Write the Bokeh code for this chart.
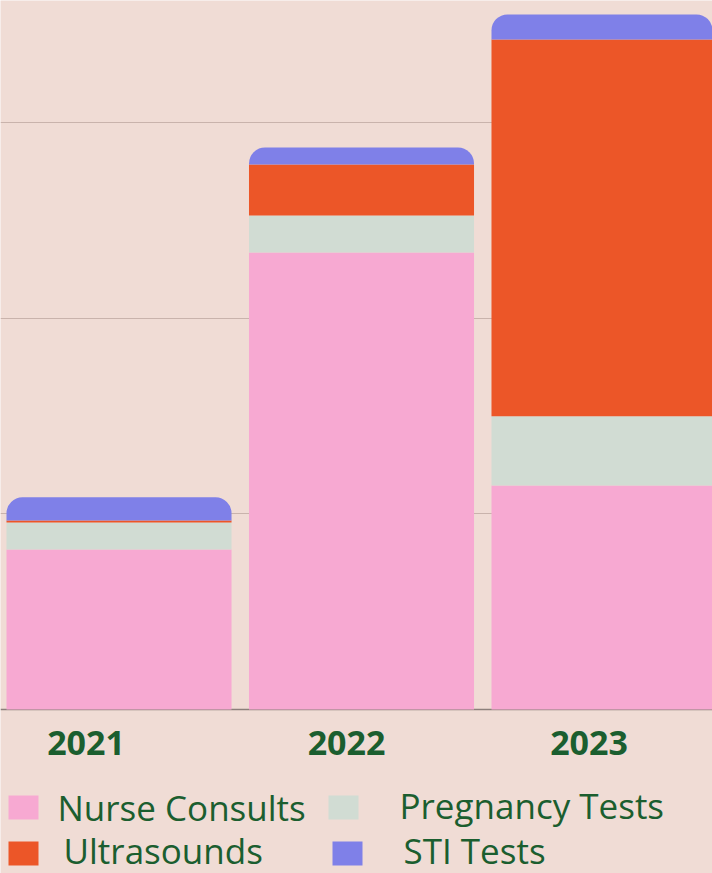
from bokeh.plotting import figure
from bokeh.models import Range1d, ColumnDataSource, Span, FixedTicker
from bokeh.core.properties import value
from bokeh.embed import file_html
from bokeh.resources import INLINE

# ---- data ----
years = ["2021", "2022", "2023"]
series = ["Nurse Consults", "Pregnancy Tests", "Ultrasounds", "STI Tests"]
nurse_consults = [818, 2335, 1145]
pregnancy_tests = [138, 189, 353]
ultrasounds = [10, 261, 1926]
sti_tests = [118, 87, 128]
grid_ticks = [1000, 2000, 3000]

# ---- style ----
BG = "#F0DCD5"
COLORS = ["#F7A9D2", "#D1DCD3", "#EC5628", "#7F80E8"]
TEXT = "#1B5E2F"
W, H = 712, 873

keys = ["nurse", "preg", "ultra", "sti"]
src = ColumnDataSource(dict(
    x=list(range(len(years))),
    year=years,
    nurse=nurse_consults,
    preg=pregnancy_tests,
    ultra=ultrasounds,
    sti=sti_tests,
))

p = figure(width=W, height=H, output_backend="svg", toolbar_location=None,
           x_range=Range1d(-0.4887, 2.4474), y_range=Range1d(-838, 3623),
           min_border=0, background_fill_color=BG, border_fill_color=BG,
           outline_line_color=None)
p.extra_x_ranges = {"px": Range1d(0, W)}
p.extra_y_ranges = {"px": Range1d(H, 0)}
p.xaxis.visible = False
p.yaxis.visible = False
p.xgrid.visible = False
p.ygrid.ticker = FixedTicker(ticks=grid_ticks)
p.ygrid.grid_line_color = "#C9B3AC"
p.ygrid.grid_line_width = 1

base = Span(location=0, dimension="width", line_color="#8C807B", line_width=1.5, level="underlay")
p.add_layout(base)

rs = p.vbar_stack(keys, x="x", width=0.928, color=COLORS, line_color=None, source=src)
rs[-1].glyph.border_radius = (16, 16, 0, 0)

# year labels under the bars
label_shift = [-33, -15, -15]
lab_src = ColumnDataSource(dict(x=list(range(len(years))), y=[742] * len(years),
                                t=years, dx=label_shift))
p.text(x="x", y="y", text="t", x_offset="dx", source=lab_src, y_range_name="px",
       text_font=value("Open Sans"), text_font_style="bold", text_font_size="34px",
       text_color=TEXT, text_align="center", text_baseline="alphabetic")

# legend (2 x 2)
sq_x = [23, 343, 23, 347]
sq_y = [807, 807, 853, 853]
tx_x = [57, 399, 63, 403]
tx_y = [807, 805, 850, 850]
p.rect(x=sq_x, y=sq_y, width=30, height=24, color=COLORS, line_color=None,
       x_range_name="px", y_range_name="px")
p.text(x=tx_x, y=tx_y, text=series, x_range_name="px", y_range_name="px",
       text_font=value("Open Sans"), text_font_size="35px", text_color=TEXT,
       text_align="left", text_baseline="alphabetic")

open("out.html", "w").write(file_html(p, INLINE))
